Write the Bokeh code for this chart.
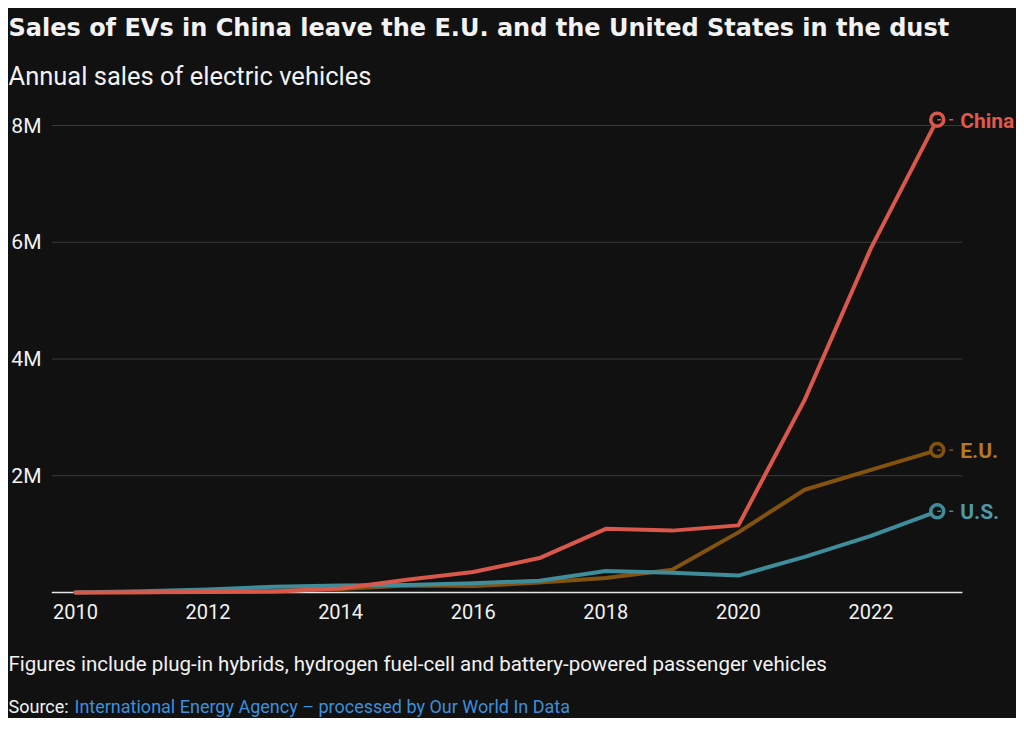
from bokeh.plotting import figure
from bokeh.models import Range1d, FixedTicker
from bokeh.layouts import column
from bokeh.core.properties import value
from bokeh.embed import file_html
from bokeh.resources import INLINE

# ---- data (millions of vehicles) ----
years = list(range(2010, 2024))
china = [0.0, 0.005, 0.01, 0.015, 0.07, 0.22, 0.35, 0.59, 1.09, 1.06, 1.15, 3.3, 5.9, 8.1]
eu = [0.0, 0.005, 0.015, 0.03, 0.06, 0.12, 0.11, 0.17, 0.25, 0.39, 1.03, 1.76, 2.1, 2.44]
us = [0.0, 0.02, 0.05, 0.1, 0.12, 0.13, 0.16, 0.2, 0.37, 0.34, 0.29, 0.61, 0.97, 1.39]

series_names = ["E.U.", "U.S.", "China"]
series_values = [eu, us, china]
line_colors = ["#83520f", "#3f8c9b", "#d9574b"]
label_colors = ["#b7791f", "#4d99a9", "#e0594c"]

y_ticks = [0, 2, 4, 6, 8]
y_tick_labels = ["", "2M", "4M", "6M", "8M"]
x_ticks = [2010, 2012, 2014, 2016, 2018, 2020, 2022]

title_text = "Sales of EVs in China leave the E.U. and the United States in the dust"
subtitle_text = "Annual sales of electric vehicles"
note_text = "Figures include plug-in hybrids, hydrogen fuel-cell and battery-powered passenger vehicles"
source_label = "Source:"
source_text = "International Energy Agency \u2013 processed by Our World In Data"

BG = "#111111"
FG = "#f2f2f2"
FONT = "Roboto"
W = 1008
HEAD_H, MAIN_H, FOOT_H = 97, 535, 78
BG_STYLE = {"background-color": BG}


def text_panel(h):
    f = figure(width=W, height=h, output_backend="svg", toolbar_location=None,
               x_range=Range1d(0, W), y_range=Range1d(h, 0),
               x_axis_location=None, y_axis_location=None,
               min_border=0, background_fill_color=BG, border_fill_color=BG,
               outline_line_color=None, styles=BG_STYLE)
    f.grid.visible = False
    f.frame_align = False
    return f


# ---- header ----
head = text_panel(HEAD_H)
head.text(x=[0], y=[19], text=[title_text], text_color=FG, text_font=value("DejaVu Sans"),
          text_font_style="bold", text_font_size="24px", text_baseline="alphabetic")
head.text(x=[0], y=[67], text=[subtitle_text], text_color=FG, text_font=value(FONT),
          text_font_size="25.5px", text_baseline="alphabetic")

# ---- main chart ----
x_start = 2009.639
px_per_year = 66.5
x_end = x_start + (W - 40) / px_per_year
grid_end = 2023.38

p = figure(width=W, height=MAIN_H, output_backend="svg", toolbar_location=None,
           x_range=Range1d(x_start, x_end), y_range=Range1d(-0.0857, 8.343),
           min_border_left=40, min_border_right=0, min_border_top=0, min_border_bottom=43,
           background_fill_color=BG, border_fill_color=BG, outline_line_color=None,
           styles=BG_STYLE)
p.frame_align = False

p.xaxis.ticker = FixedTicker(ticks=x_ticks)
p.yaxis.ticker = FixedTicker(ticks=y_ticks)
p.yaxis.major_label_overrides = {t: s for t, s in zip(y_ticks, y_tick_labels)}
for ax in (p.xaxis[0], p.yaxis[0]):
    ax.axis_line_color = None
    ax.major_tick_line_color = None
    ax.minor_tick_line_color = None
    ax.major_tick_out = 0
    ax.major_tick_in = 0
    ax.major_label_text_color = FG
    ax.major_label_text_font = FONT
p.xaxis.major_label_text_font_size = "20px"
p.yaxis.major_label_text_font_size = "21px"
p.xaxis.major_label_standoff = 6
p.yaxis.major_label_standoff = 10
p.grid.visible = False

# horizontal gridlines (stop before the end labels) and the zero baseline
grid_y = y_ticks[1:]
p.segment(x0=[x_start] * len(grid_y), y0=grid_y, x1=[grid_end] * len(grid_y), y1=grid_y,
          line_color="#3a3a3a", line_width=1)
p.segment(x0=[x_start], y0=[y_ticks[0]], x1=[grid_end], y1=[y_ticks[0]],
          line_color="#e6e6e6", line_width=1.5)

for vals, c in zip(series_values, line_colors):
    p.line(years, vals, line_color=c, line_width=4, line_join="round", line_cap="round")

for name, vals, c, lc in zip(series_names, series_values, line_colors, label_colors):
    xe, ye = years[-1], vals[-1]
    p.scatter([xe], [ye], size=13, fill_color=BG, line_color=c, line_width=3.5)
    p.segment(x0=[xe], y0=[ye], x1=[xe + 4 / px_per_year], y1=[ye], line_color=c, line_width=1.5)
    p.segment(x0=[xe + 12 / px_per_year], y0=[ye], x1=[xe + 16 / px_per_year], y1=[ye],
              line_color=c, line_width=1.5)
    p.text(x=[xe], y=[ye], text=[name], x_offset=23, y_offset=1, text_color=lc,
           text_font=value(FONT), text_font_style="bold", text_font_size="21px",
           text_baseline="middle", text_align="left")

# ---- footer ----
foot = text_panel(FOOT_H)
foot.text(x=[0], y=[23], text=[note_text], text_color=FG, text_font=value(FONT),
          text_font_size="20.5px", text_baseline="alphabetic")
foot.text(x=[0], y=[66], text=[source_label], text_color=FG, text_font=value(FONT),
          text_font_size="18px", text_baseline="alphabetic")
foot.text(x=[66], y=[66], text=[source_text], text_color="#3b8fdd", text_font=value(FONT),
          text_font_size="18px", text_baseline="alphabetic")

layout = column(head, p, foot, spacing=0, margin=(8, 0, 0, 8), styles=BG_STYLE)
open("out.html", "w").write(file_html(layout, INLINE))
